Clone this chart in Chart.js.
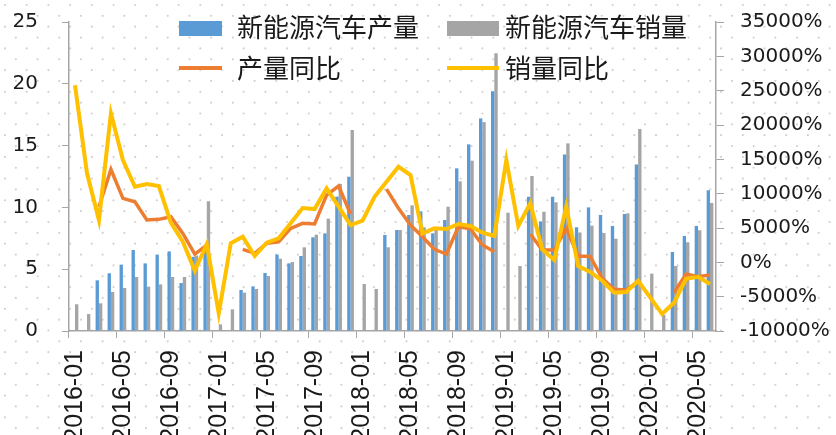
<!DOCTYPE html>
<html>
<head>
<meta charset="utf-8">
<script src="https://cdn.jsdelivr.net/npm/chart.js@4.4.0/dist/chart.umd.min.js"></script>
<style>
    html, body { margin: 0; padding: 0; background: #fff; }
    #wrap { width: 836px; height: 435px; }
</style>
</head>
<body>
<div id="wrap"><canvas id="nevChart"></canvas></div>
<script>
// monthly categories, 2016-01 .. 2020-06
const months = [
    '2016-01', '2016-02', '2016-03', '2016-04', '2016-05', '2016-06', '2016-07', '2016-08', '2016-09', '2016-10', '2016-11', '2016-12',
    '2017-01', '2017-02', '2017-03', '2017-04', '2017-05', '2017-06', '2017-07', '2017-08', '2017-09', '2017-10', '2017-11', '2017-12',
    '2018-01', '2018-02', '2018-03', '2018-04', '2018-05', '2018-06', '2018-07', '2018-08', '2018-09', '2018-10', '2018-11', '2018-12',
    '2019-01', '2019-02', '2019-03', '2019-04', '2019-05', '2019-06', '2019-07', '2019-08', '2019-09', '2019-10', '2019-11', '2019-12',
    '2020-01', '2020-02', '2020-03', '2020-04', '2020-05', '2020-06'
];

// 新能源汽车产量 (万辆)
const production = [
    null, null, 4.1, 4.67, 5.37, 6.55, 5.47, 6.18, 6.44, 3.88, 6.0, 6.7,
    null, null, 3.32, 3.61, 4.69, 6.18, 5.47, 6.07, 7.58, 7.9, 10.87, 12.48,
    null, null, 7.77, 8.17, 9.39, 9.68, 7.9, 8.98, 13.16, 15.1, 17.2, 19.39,
    null, null, 10.87, 8.87, 10.87, 14.29, 8.39, 10.0, 9.39, 8.5, 9.47, 13.48,
    null, null, 6.39, 7.69, 8.5, 11.38
];

// 新能源汽车销量 (万辆)
const sales = [
    2.16, 1.37, 2.24, 3.16, 3.48, 4.37, 3.59, 3.77, 4.37, 4.37, 6.1, 10.49,
    0.54, 1.75, 3.1, 3.4, 4.45, 5.85, 5.58, 6.77, 7.79, 9.09, 11.9, 16.26,
    3.8, 3.4, 6.77, 8.17, 10.17, 8.39, 8.17, 10.06, 12.11, 13.78, 16.9, 22.47,
    9.57, 5.26, 12.54, 9.65, 10.41, 15.18, 7.95, 8.52, 7.93, 7.47, 9.52, 16.34,
    4.64, 1.3, 5.26, 7.18, 8.15, 10.36
];

// 产量同比 (%)
const productionYoY = [
    null, null, 8100, 13540, 9320, 8830, 6160, 6260, 6640, 4220, 1200, 2520,
    null, null, 1890, 1310, 2770, 3000, 4950, 5680, 5580, 9800, 11110, 7030,
    null, null, 10670, 7860, 5430, 3730, 1890, 1210, 5180, 4890, 2520, 1540,
    null, null, 4120, 1790, 1790, 4950, 920, 850, -2330, -3930, -4030, -2830,
    null, null, -4430, -1700, -2100, -1850
];

// 销量同比 (%)
const salesYoY = [
    25800, 13000, 6160, 21700, 14900, 11010, 11400, 11110, 5770, 3000, -1220, 2660,
    -7430, 2770, 3730, 920, 2860, 3490, 5680, 7910, 7760, 10780, 8100, 5430,
    6060, 9550, 11740, 13920, 12710, 4220, 4950, 4850, 5580, 5290, 4310, 3830,
    14900, 5290, 8590, 1890, 330, 8100, -540, -1400, -2680, -4430, -4330, -2680,
    -5100, -7530, -5880, -2390, -2100, -3160
];

const axisGray = '#a6a6a6';
const textColor = '#1a1a1a';

// light dotted backdrop like the office pattern fill
const dottedBg = {
    id: 'dottedBg',
    beforeDraw(chart) {
        const ctx = chart.ctx;
        ctx.save();
        ctx.fillStyle = '#ffffff';
        ctx.fillRect(0, 0, chart.width, chart.height);
        ctx.fillStyle = '#d2d2d2';
        const dx = 21.7, dy = 10.85;
        let row = 0;
        for (let y = 5; y < chart.height; y += dy, row++) {
            const shift = row % 2 ? dx / 2 : 0;
            for (let x = 5 + shift; x < chart.width; x += dx) {
                ctx.beginPath();
                ctx.arc(x, y, 1.1, 0, Math.PI * 2);
                ctx.fill();
            }
        }
        ctx.restore();
    }
};

// legend laid out in two aligned columns inside the plot
const cornerLegend = {
    id: 'cornerLegend',
    afterDraw(chart) {
        const ctx = chart.ctx;
        const ds = chart.data.datasets;
        const slots = [
            { i: 0, x: 179, w: 43, textX: 237, y: 27 },
            { i: 1, x: 447, w: 52, textX: 505, y: 27 },
            { i: 2, x: 179, w: 43, textX: 237, y: 68 },
            { i: 3, x: 447, w: 52, textX: 505, y: 68 }
        ];
        ctx.save();
        slots.forEach(s => {
            const d = ds[s.i];
            if (d.type === 'bar') {
                ctx.fillStyle = d.backgroundColor;
                ctx.fillRect(s.x, s.y - 6, s.w, 15);
            } else {
                ctx.strokeStyle = d.borderColor;
                ctx.lineWidth = 4;
                ctx.beginPath();
                ctx.moveTo(s.x, s.y);
                ctx.lineTo(s.x + s.w, s.y);
                ctx.stroke();
            }
            ctx.fillStyle = textColor;
            ctx.font = '26px "Noto Sans CJK SC"';
            ctx.textBaseline = 'middle';
            ctx.textAlign = 'left';
            ctx.fillText(d.label, s.textX, s.y);
        });
        ctx.restore();
    }
};

// keep the label padding from pushing the plot area down
const fixVertical = (width) => (scale) => {
    scale.width = width;
    scale.paddingTop = 0;
    scale.paddingBottom = 0;
};

const ctx = document.getElementById('nevChart').getContext('2d');
const nevChart = new Chart(ctx, {
    data: {
        labels: months,
        datasets: [
            {
                type: 'bar',
                label: '新能源汽车产量',
                data: production,
                backgroundColor: '#5b9bd5',
                yAxisID: 'y',
                barPercentage: 1,
                categoryPercentage: 0.56,
                order: 2
            },
            {
                type: 'bar',
                label: '新能源汽车销量',
                data: sales,
                backgroundColor: '#a5a5a5',
                yAxisID: 'y',
                barPercentage: 1,
                categoryPercentage: 0.56,
                order: 3
            },
            {
                type: 'line',
                label: '产量同比',
                data: productionYoY,
                borderColor: '#ed7d31',
                borderWidth: 3.5,
                pointRadius: 0,
                tension: 0,
                yAxisID: 'y1',
                order: 1
            },
            {
                type: 'line',
                label: '销量同比',
                data: salesYoY,
                borderColor: '#ffc000',
                borderWidth: 4,
                pointRadius: 0,
                tension: 0,
                yAxisID: 'y1',
                order: 0
            }
        ]
    },
    options: {
        responsive: true,
        maintainAspectRatio: false,
        animation: false,
        layout: { padding: { top: 22, left: 0, right: 0, bottom: 0 } },
        plugins: {
            legend: { display: false },
            tooltip: { enabled: false }
        },
        scales: {
            x: {
                offset: true,
                grid: {
                    offset: true,
                    drawOnChartArea: false,
                    drawTicks: true,
                    tickLength: 7,
                    color: (c) => (c.index % 4 === 0 ? axisGray : 'rgba(0,0,0,0)'),
                    tickColor: (c) => (c.index % 4 === 0 ? axisGray : 'rgba(0,0,0,0)')
                },
                border: { display: true, color: axisGray, width: 1.5 },
                ticks: {
                    autoSkip: false,
                    minRotation: 90,
                    maxRotation: 90,
                    padding: 12,
                    color: textColor,
                    font: { family: '"Liberation Sans", Arial, sans-serif', size: 25 },
                    callback: function (val, i) {
                        return i % 4 === 0 ? this.getLabelForValue(val) : '';
                    }
                },
                afterFit: (scale) => { scale.height = 104; }
            },
            y: {
                position: 'left',
                min: 0,
                max: 25,
                grid: { drawOnChartArea: false, tickLength: 7, color: axisGray },
                border: { display: true, color: axisGray, width: 1.5 },
                ticks: {
                    stepSize: 5,
                    padding: 24,
                    color: textColor,
                    font: { family: '"DejaVu Sans", sans-serif', size: 20 }
                },
                afterFit: fixVertical(69)
            },
            y1: {
                position: 'right',
                min: -10000,
                max: 35000,
                grid: { drawOnChartArea: false, tickLength: 8, color: axisGray },
                border: { display: true, color: axisGray, width: 1.5 },
                ticks: {
                    stepSize: 5000,
                    padding: 16,
                    color: textColor,
                    font: { family: '"DejaVu Sans", sans-serif', size: 20 },
                    callback: (v) => v + '%'
                },
                afterFit: fixVertical(120)
            }
        }
    },
    plugins: [dottedBg, cornerLegend]
});
</script>
</body>
</html>
